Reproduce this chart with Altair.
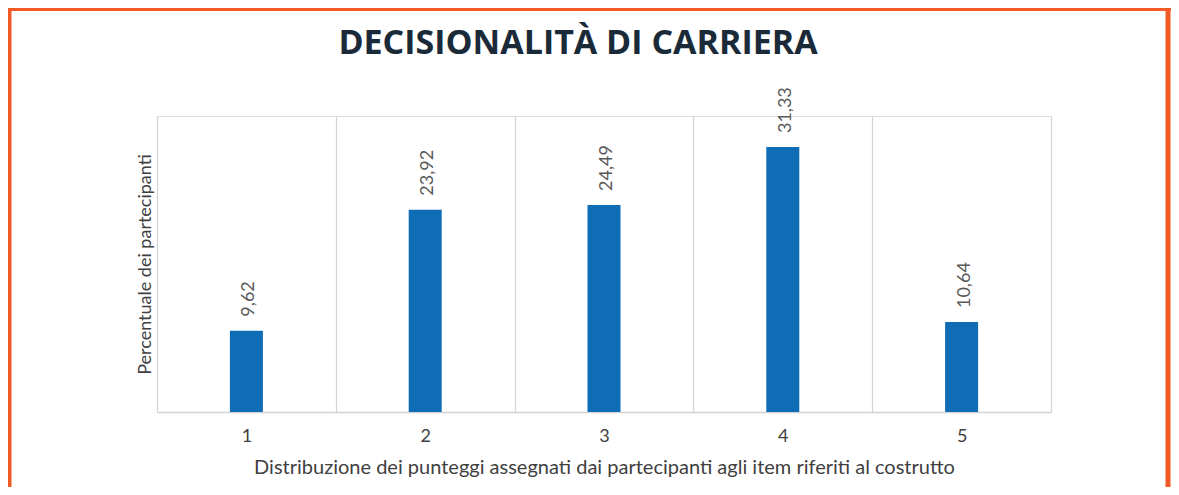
import altair as alt
import pandas as pd

categories = ["1", "2", "3", "4", "5"]
values = [9.62, 23.92, 24.49, 31.33, 10.64]
labels = ["9,62", "23,92", "24,49", "31,33", "10,64"]

df = pd.DataFrame({"cat": categories, "val": values, "lab": labels})

FONT = "Lato"
W, H = 894, 296

x_enc = alt.X(
    "cat:N",
    sort=categories,
    scale=alt.Scale(paddingInner=0, paddingOuter=0),
    axis=alt.Axis(
        title="Distribuzione dei punteggi assegnati dai partecipanti agli item riferiti al costrutto",
        labelAngle=0,
        labelFontSize=18,
        labelColor="#404040",
        labelFont=FONT,
        labelPadding=15,
        titleFontSize=20,
        titleFont=FONT,
        titleFontWeight="normal",
        titleColor="#404040",
        titlePadding=12,
        ticks=False,
        grid=True,
        tickBand="extent",
        gridColor="#D4D4D4",
        gridWidth=1.2,
        domainColor="#D4D4D4",
        domainWidth=1.5,
    ),
)

y_enc = alt.Y(
    "val:Q",
    scale=alt.Scale(domain=[0, 35], nice=False),
    axis=alt.Axis(
        title="Percentuale dei partecipanti",
        labels=False,
        ticks=False,
        grid=False,
        domain=False,
        titleFontSize=18,
        titleFont=FONT,
        titleFontWeight="normal",
        titleColor="#404040",
        titlePadding=3,
    ),
)

base = alt.Chart(df)

bars = base.mark_bar(size=33, color="#0F6DB5").encode(x=x_enc, y=y_enc)

text = base.mark_text(
    angle=270, align="left", baseline="middle", dx=14, dy=3,
    fontSize=18, font=FONT, color="#595959",
).encode(x=alt.X("cat:N", sort=categories), y="val:Q", text="lab:N")

border_df = pd.DataFrame({"k": [0]})
bcol = "#F15A24"
left_b = alt.Chart(border_df).mark_rule(color=bcol, strokeWidth=5).encode(
    x=alt.value(-148), y=alt.value(-109), y2=alt.value(H + 80))
top_b = alt.Chart(border_df).mark_rule(color=bcol, strokeWidth=5).encode(
    x=alt.value(-150), x2=alt.value(W + 120), y=alt.value(-107.5))
right_b = alt.Chart(border_df).mark_rule(color=bcol, strokeWidth=5).encode(
    x=alt.value(W + 117), y=alt.value(-109), y2=alt.value(H + 80))

chart = alt.layer(bars, text, left_b, top_b, right_b).properties(
    width=W,
    height=H,
    autosize=alt.AutoSizeParams(type="none"),
    padding={"left": 149, "top": 108, "right": 120, "bottom": 75},
    title=alt.TitleParams(
        text="DECISIONALITÀ  DI  CARRIERA",
        font="Open Sans",
        fontSize=34,
        fontWeight="bold",
        color="#1B2A38",
        frame="group",
        anchor="middle",
        baseline="alphabetic",
        offset=0,
        dy=83,
        dx=-26,
        limit=0,
    ),
).configure_view(stroke=None).configure(background="white")

chart.save("out.html", embed_options={"renderer": "svg", "actions": False})
